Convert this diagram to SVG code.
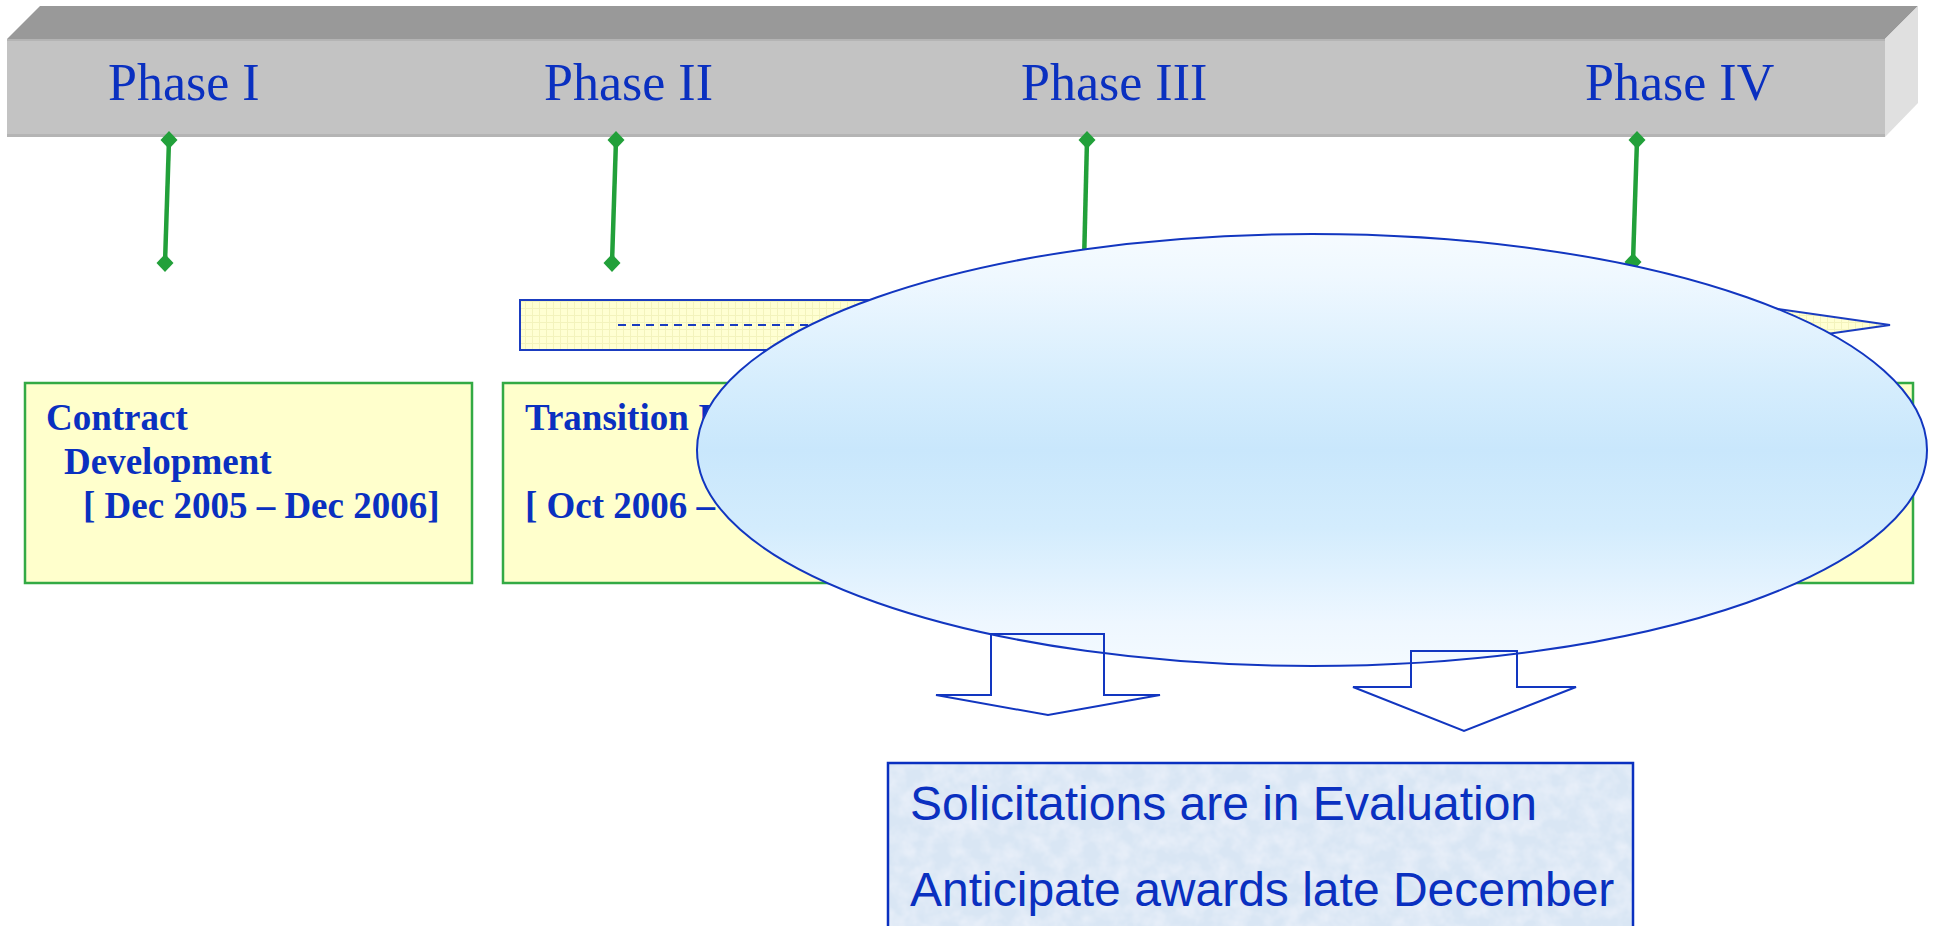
<svg xmlns="http://www.w3.org/2000/svg" width="1933" height="926" viewBox="0 0 1933 926">
  <style>
    .phase { font-family: "Liberation Serif", "Times New Roman", serif; font-size: 52px; fill: #0a30c0; }
    .boxtxt { font-family: "Liberation Serif", "Times New Roman", serif; font-size: 37px; font-weight: bold; fill: #0a30c0; }
    .note { font-family: "Liberation Sans", Arial, sans-serif; font-size: 48px; fill: #0a30c0; }
    .ybox { fill: #ffffcc; stroke: #33aa44; stroke-width: 2.5; }
    .conn { stroke: #22a03a; stroke-width: 4.5; fill: none; marker-start: url(#dia); marker-end: url(#dia); }
    .barrow { fill: none; stroke: #1236c0; stroke-width: 2; }
  </style>
  <defs>
    <marker id="dia" viewBox="-10 -10 20 20" refX="0" refY="0" markerWidth="20" markerHeight="20" markerUnits="userSpaceOnUse" orient="0">
      <path d="M0,-9 L8.5,0 L0,9 L-8.5,0 Z" fill="#22a03a"/>
    </marker>
    <linearGradient id="ellg" x1="0" y1="0" x2="0" y2="1">
      <stop offset="0" stop-color="#f6fbff"/>
      <stop offset="0.1" stop-color="#eff8ff"/>
      <stop offset="0.35" stop-color="#d5edfd"/>
      <stop offset="0.5" stop-color="#c9e7fc"/>
      <stop offset="0.68" stop-color="#d3ecfd"/>
      <stop offset="0.9" stop-color="#eef7ff"/>
      <stop offset="1" stop-color="#f4faff"/>
    </linearGradient>
    <pattern id="grid" width="7" height="7" patternUnits="userSpaceOnUse">
      <rect width="7" height="7" fill="#ffffd2"/>
      <path d="M0,0.5 H7 M0.5,0 V7" stroke="#f3f3bc" stroke-width="1"/>
    </pattern>
    <filter id="tex" x="0" y="0" width="100%" height="100%">
      <feTurbulence type="fractalNoise" baseFrequency="0.06" numOctaves="3" seed="7" result="n"/>
      <feColorMatrix in="n" type="matrix" values="0 0 0 0 0.97  0 0 0 0 0.96  0 0 0 0 1  0.9 0 0 0 -0.3"/>
    </filter>
  </defs>

  <!-- timeline bar -->
  <g id="bar">
    <polygon points="7,39 40,6 1918,6 1885,39" fill="#999999"/>
    <rect x="7" y="39" width="1878" height="98" fill="#c3c3c3"/>
    <rect x="7" y="39" width="1878" height="2" fill="#b4b4b4"/>
    <rect x="7" y="134" width="1878" height="3" fill="#b4b4b4"/>
    <polygon points="1885,39 1918,6 1918,103 1885,137" fill="#e0e0e0"/>
    <text class="phase" x="108" y="100">Phase I</text>
    <text class="phase" x="544" y="100">Phase II</text>
    <text class="phase" x="1021" y="100">Phase III</text>
    <text class="phase" x="1585" y="100">Phase IV</text>
  </g>

  <!-- connectors -->
  <g id="connectors">
    <line class="conn" x1="169" y1="140" x2="165" y2="263"/>
    <line class="conn" x1="616" y1="140" x2="612" y2="263"/>
    <line class="conn" x1="1087" y1="140" x2="1084" y2="263"/>
    <line class="conn" x1="1637" y1="140" x2="1633" y2="262"/>
  </g>

  <!-- dashed timeline arrow -->
  <g id="timeline-arrow">
    <polygon points="520,300 1714,300 1890,325 1714,350 520,350" fill="url(#grid)" stroke="#1a3cc0" stroke-width="2"/>
    <line x1="618" y1="325" x2="1700" y2="325" stroke="#1a3cc0" stroke-width="2" stroke-dasharray="8 6"/>
  </g>

  <!-- phase boxes -->
  <g id="box-contract">
    <rect class="ybox" x="25" y="383" width="447" height="200"/>
    <text class="boxtxt" x="46" y="430">Contract</text>
    <text class="boxtxt" x="64" y="474">Development</text>
    <text class="boxtxt" x="83" y="518">[ Dec 2005 – Dec 2006]</text>
  </g>
  <g id="box-transition">
    <rect class="ybox" x="503" y="383" width="447" height="200"/>
    <text class="boxtxt" x="525" y="430">Transition I</text>
    <text class="boxtxt" x="525" y="518">[ Oct 2006 –</text>
  </g>
  <g id="box-four">
    <rect class="ybox" x="1462" y="383" width="451" height="200"/>
  </g>

  <!-- callout ellipse -->
  <g id="ellipse">
    <ellipse cx="1312" cy="450" rx="615" ry="216" fill="url(#ellg)" stroke="#1236c0" stroke-width="2"/>
  </g>

  <!-- block arrows -->
  <g id="block-arrows">
    <path class="barrow" d="M991,634 H1104 V695 H1160 L1048,715 L936,695 H991 Z"/>
    <path class="barrow" d="M1411,651 H1517 V687 H1576 L1464,731 L1353,687 H1411 Z"/>
  </g>

  <!-- status box -->
  <g id="status">
    <rect x="888" y="763" width="745" height="200" fill="#d9e6f4"/>
    <rect x="888" y="763" width="745" height="200" filter="url(#tex)"/>
    <rect x="888" y="763" width="745" height="200" fill="none" stroke="#0a30c0" stroke-width="2.5"/>
    <text class="note" x="910" y="820">Solicitations are in Evaluation</text>
    <text class="note" x="910" y="906">Anticipate awards late December</text>
  </g>
</svg>
